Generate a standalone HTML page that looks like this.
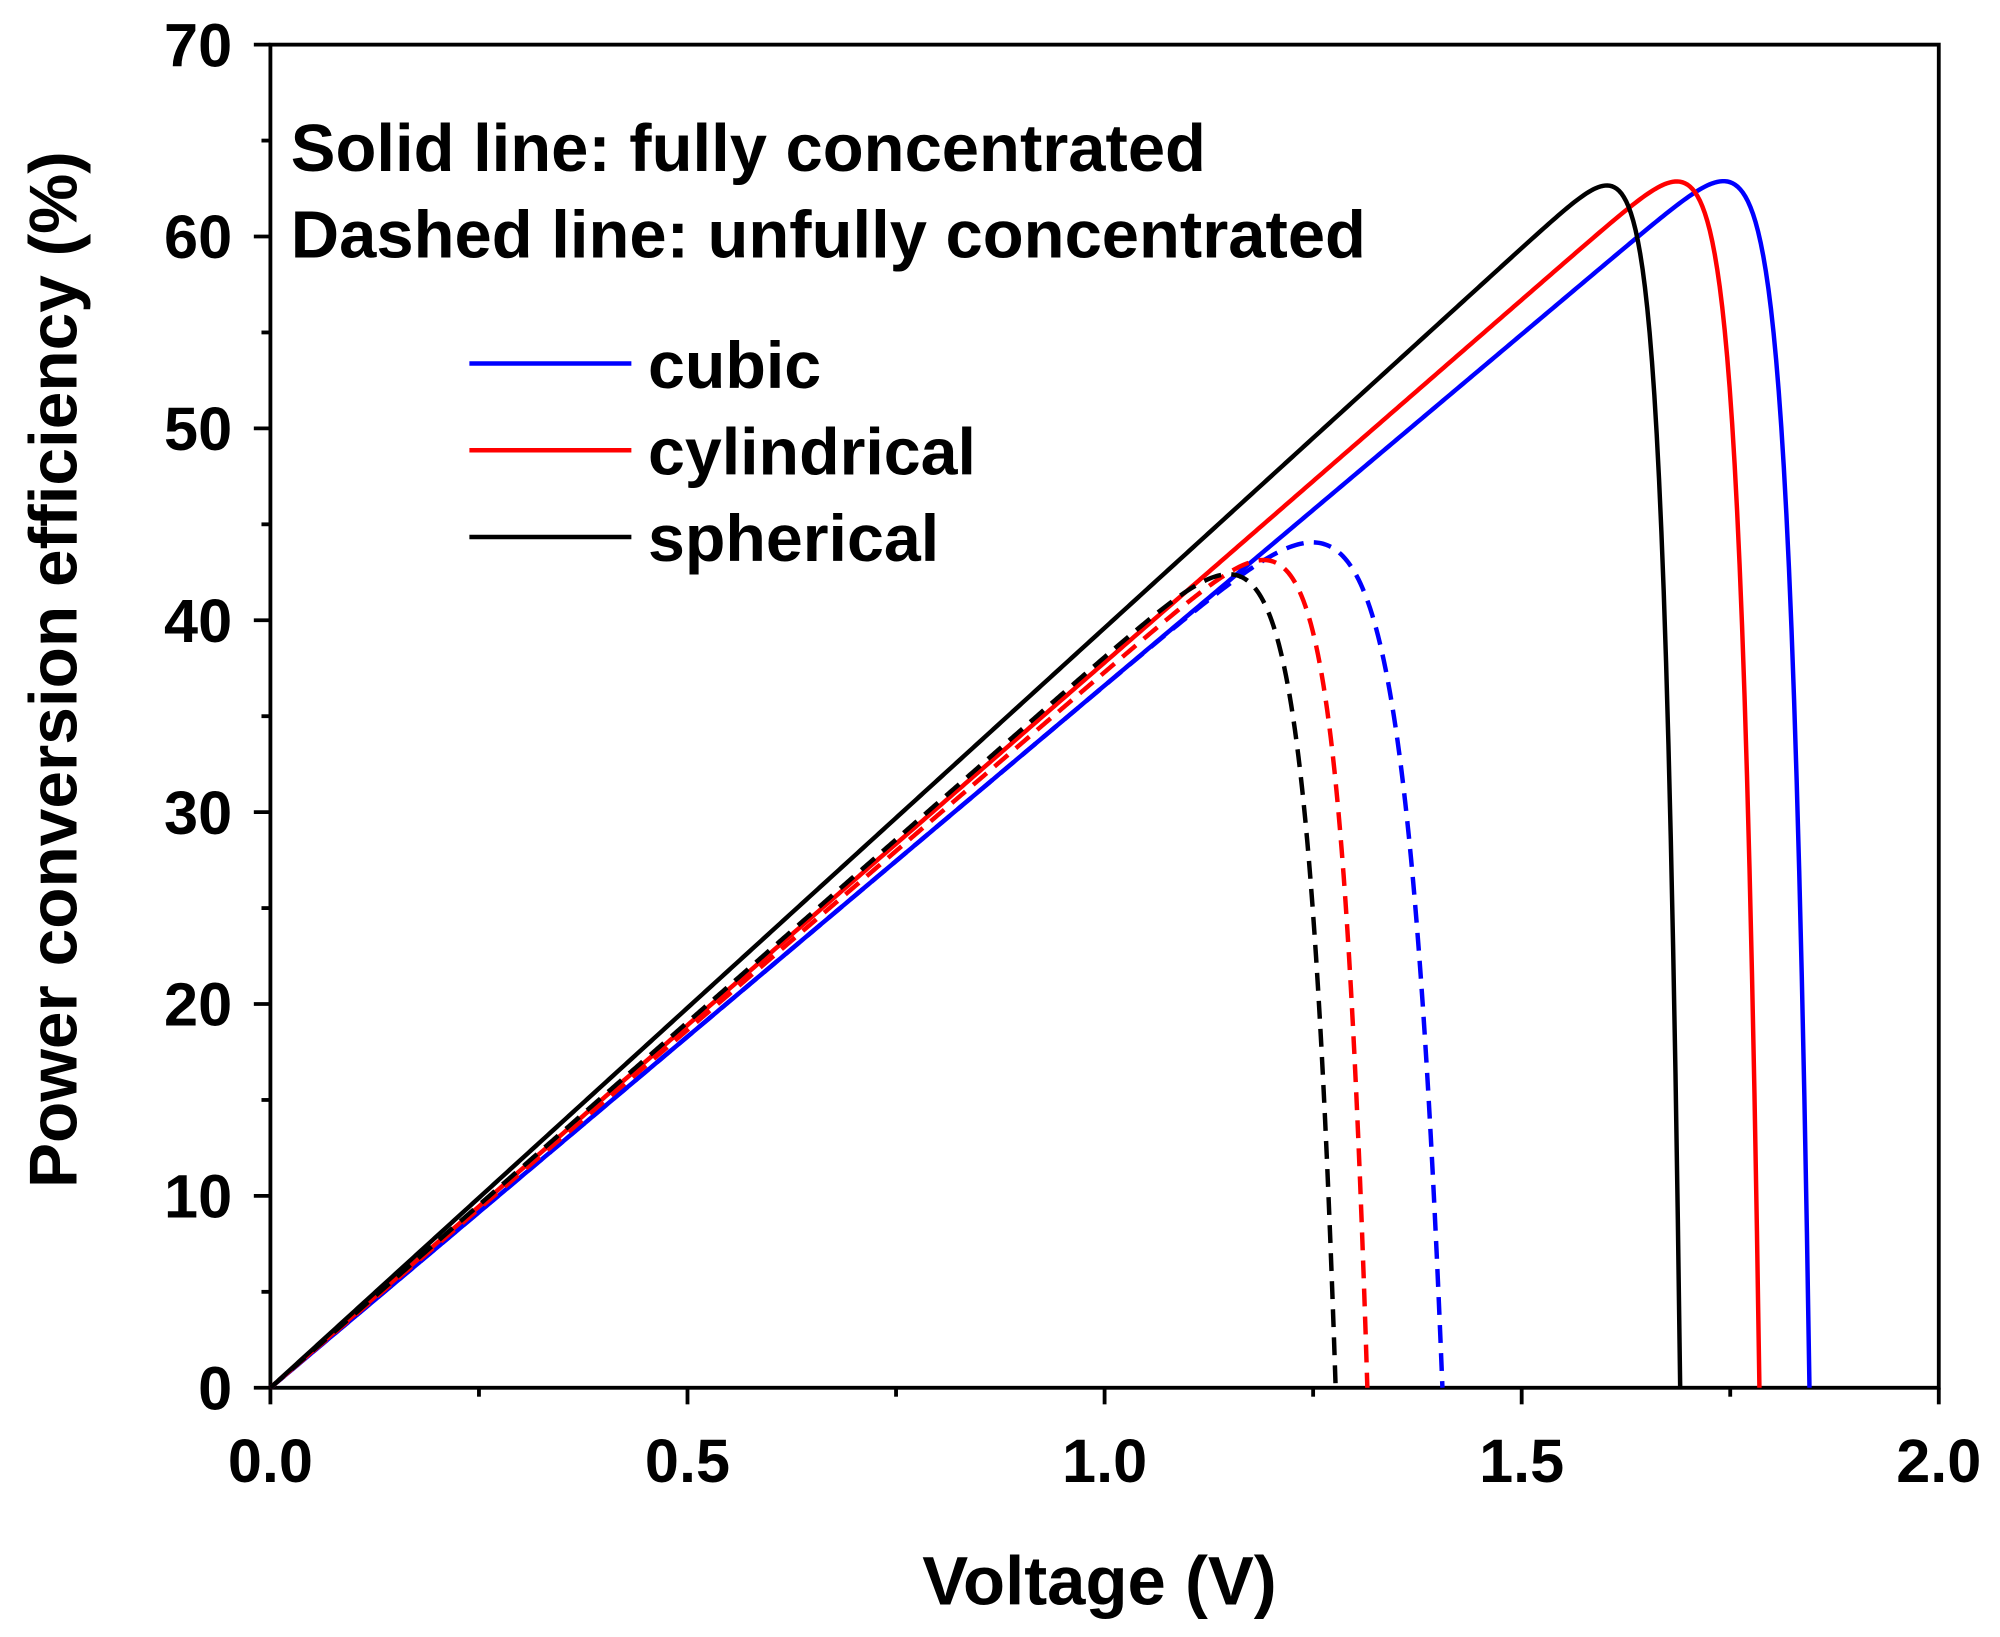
<!DOCTYPE html>
<html><head><meta charset="utf-8"><style>
html,body{margin:0;padding:0;background:#fff;}
svg{display:block;}
text{font-family:"Liberation Sans",Arial,sans-serif;font-weight:bold;fill:#000;}
</style></head><body>
<svg id="s" width="2000" height="1637" viewBox="0 0 1568 1283.4" preserveAspectRatio="none" xmlns="http://www.w3.org/2000/svg">
<rect x="212" y="35" width="1308" height="1053" fill="none" stroke="#000" stroke-width="3"/>
<g id="ticks" stroke="#000" stroke-width="3"></g>
<g id="labels" font-size="48"></g>
<g id="curves" fill="none" stroke-width="3.5"></g>
<text x="862" y="1258" font-size="54" text-anchor="middle">Voltage (V)</text>
<text transform="translate(60,525) rotate(-90)" font-size="53" text-anchor="middle">Power conversion efficiency (%)</text>
<text x="228" y="134" font-size="52.5">Solid line: fully concentrated</text>
<text x="228" y="202" font-size="52.5">Dashed line: unfully concentrated</text>
<line x1="368" y1="285" x2="495" y2="285" stroke="#0000ff" stroke-width="3.5"/>
<line x1="368" y1="353" x2="495" y2="353" stroke="#ff0000" stroke-width="3.5"/>
<line x1="368" y1="421" x2="495" y2="421" stroke="#000" stroke-width="3.5"/>
<text x="508" y="304" font-size="52">cubic</text>
<text x="508" y="372" font-size="52">cylindrical</text>
<text x="508" y="440" font-size="52">spherical</text>
</svg>
<script>
var NS="http://www.w3.org/2000/svg";
function X(v){return 212+v*654;}
function Y(e){return 1088-e*15.043;}
var t=document.getElementById("ticks"),L=document.getElementById("labels"),c=document.getElementById("curves");
function el(p,tag,a,txt){var e=document.createElementNS(NS,tag);for(var k in a)e.setAttribute(k,a[k]);if(txt!==undefined)e.textContent=txt;p.appendChild(e);return e;}
for(var i=0;i<=8;i++){var v=i*0.25,x=X(v),maj=i%2==0;
 el(t,"line",{x1:x,y1:1088,x2:x,y2:1088+(maj?13:7)});
 if(maj)el(L,"text",{x:x,y:1162,"text-anchor":"middle"},v.toFixed(1));}
for(var i=0;i<=14;i++){var e=i*5,y=Y(e),maj=i%2==0;
 el(t,"line",{x1:212,y1:y,x2:212-(maj?13:7),y2:y});
 if(maj)el(L,"text",{x:182,y:y+17,"text-anchor":"end"},String(e));}
var cs=[
 ["#0000ff",36.6,1.845,0.024,0],["#ff0000",37.8,1.785,0.023,0],["#000",39.6,1.69,0.02,0],
 ["#0000ff",36.6,1.405,0.047,1],["#ff0000",37.3,1.315,0.035,1],["#000",38.1,1.277,0.037,1]];
cs.forEach(function(q){var d="",n=600;
 for(var i=0;i<=n;i++){var v=q[2]*i/n,e=q[1]*v*(1-Math.exp((v-q[2])/q[3]));if(e<0)e=0;
  d+=(i?"L":"M")+X(v).toFixed(2)+" "+Y(e).toFixed(2);}
 var a={d:d,stroke:q[0]};if(q[4])a["stroke-dasharray"]="14 8";el(c,"path",a);});
</script>
</body></html>
